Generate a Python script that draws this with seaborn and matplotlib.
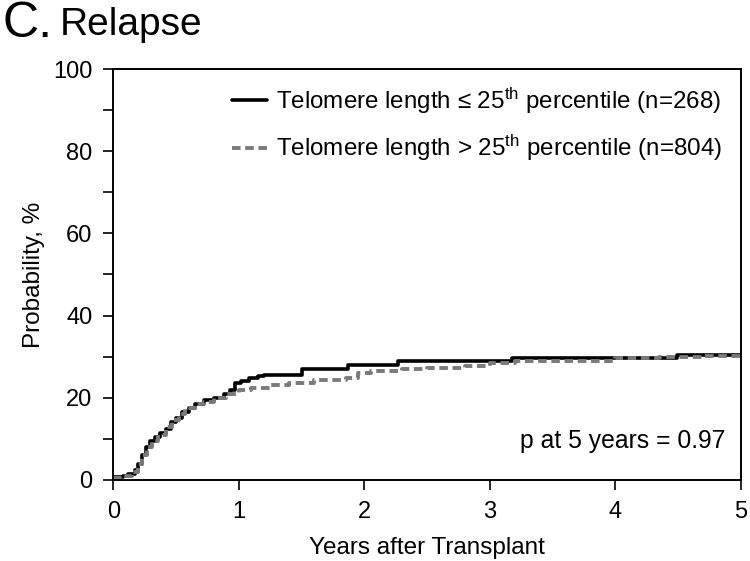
import pandas as pd
import seaborn as sns
import matplotlib.pyplot as plt

# Cumulative incidence of relapse (steps)
years_short = [0, 0.08, 0.12, 0.17, 0.20, 0.23, 0.26, 0.29, 0.33, 0.37, 0.42, 0.46,
               0.50, 0.55, 0.60, 0.65, 0.72, 0.80, 0.88, 0.93, 0.97, 1.02, 1.08,
               1.15, 1.20, 1.50, 1.87, 2.27, 3.18, 4.49, 5.0]
pct_short = [0.8, 1.0, 1.5, 2.5, 4.0, 6.0, 8.0, 9.5, 10.5, 11.5, 12.5, 14.0,
             15.0, 16.5, 17.5, 18.5, 19.5, 20.0, 21.0, 22.0, 23.5, 24.0, 24.8,
             25.3, 25.6, 27.0, 28.0, 29.0, 29.7, 30.3, 30.3]

years_long = [0, 0.10, 0.15, 0.20, 0.23, 0.27, 0.31, 0.36, 0.42, 0.47, 0.52, 0.57,
              0.65, 0.72, 0.80, 0.90, 1.00, 1.10, 1.25, 1.40, 1.60, 1.85, 1.95,
              2.05, 2.30, 2.50, 2.80, 3.00, 3.20, 4.00, 4.35, 4.70, 5.0]
pct_long = [0.5, 1.0, 2.0, 4.0, 6.0, 8.0, 9.5, 11.0, 13.0, 14.5, 16.0, 17.5,
            18.5, 19.0, 20.0, 21.0, 22.0, 22.5, 23.0, 23.7, 24.3, 24.9, 26.0,
            26.4, 26.9, 27.3, 27.8, 28.4, 29.0, 29.6, 30.0, 30.2, 30.4]

label_short = "Telomere length \u2264 25$^{\\mathrm{th}}$ percentile (n=268)"
label_long = "Telomere length > 25$^{\\mathrm{th}}$ percentile (n=804)"

sns.set_style("ticks")
plt.rcParams["font.family"] = ["Liberation Sans", "DejaVu Sans"]
plt.rcParams["mathtext.fontset"] = "custom"
plt.rcParams["mathtext.rm"] = "Liberation Sans"
plt.rcParams["mathtext.it"] = "Liberation Sans:italic"
plt.rcParams["text.color"] = "black"
plt.rcParams["axes.labelcolor"] = "black"
plt.rcParams["xtick.color"] = "black"
plt.rcParams["ytick.color"] = "black"

fig = plt.figure(figsize=(7.5, 5.61), dpi=100)
ax = fig.add_axes([0.151, 0.1444, 0.837, 0.7326])

df_short = pd.DataFrame({"years": years_short, "pct": pct_short})
df_long = pd.DataFrame({"years": years_long, "pct": pct_long})

sns.lineplot(data=df_short, x="years", y="pct", ax=ax, color="black", lw=2.6,
             drawstyle="steps-post", estimator=None, label=label_short)
sns.lineplot(data=df_long, x="years", y="pct", ax=ax, color="#7a7a7a", lw=2.8,
             drawstyle="steps-post", estimator=None, label=label_long,
             linestyle=(0, (2.2, 1.2)))

ax.set_xlim(0, 5)
ax.set_ylim(0, 100)
ax.set_xticks(range(0, 6))
ax.set_yticks(range(0, 101, 20))
ax.set_yticks(range(10, 100, 20), minor=True)
ax.tick_params(axis="both", which="major", labelsize=17, length=7, width=1.2,
               direction="out", pad=8)
ax.tick_params(axis="y", which="minor", length=7, width=1.2, direction="out")
for s in ax.spines.values():
    s.set_linewidth(1.4)
    s.set_color("black")

ax.set_xlabel("Years after Transplant", fontsize=17.5, labelpad=10)
ax.set_ylabel("Probability, %", fontsize=17.5, labelpad=6)

ax.legend(loc="upper right", bbox_to_anchor=(1.005, 1.013), frameon=False,
          fontsize=17.4, handlelength=1.45, handletextpad=0.4, labelspacing=0.72)

ax.text(0.975, 0.095, "p at 5 years = 0.97", transform=ax.transAxes,
        ha="right", va="center", fontsize=17.8)

fig.text(0.003, 0.958, "C.", fontsize=36, va="center", ha="left")
fig.text(0.08, 0.955, "Relapse", fontsize=28, va="center", ha="left")

plt.savefig("out.png", dpi=100)
